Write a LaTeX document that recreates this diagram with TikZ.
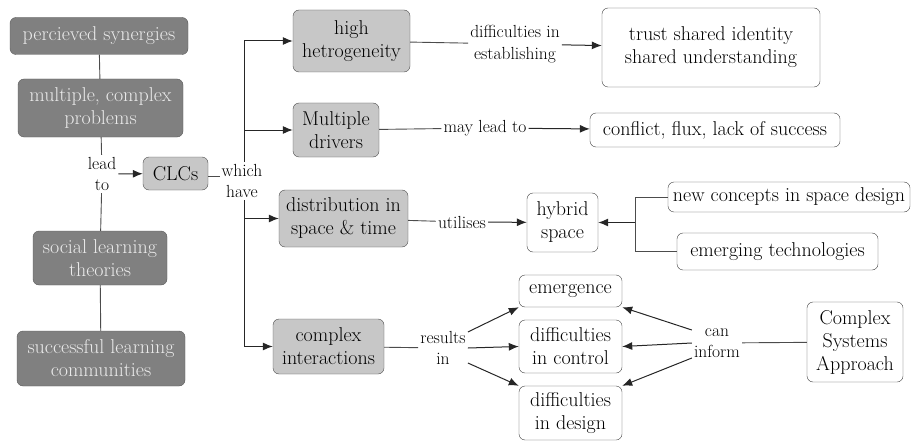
\documentclass[tikz,border=0pt]{standalone}
\usepackage{fontspec}
\usepackage{tikz}
\usetikzlibrary{arrows.meta, positioning}
\newcommand{\boxfont}{\rmfamily\fontsize{20}{23}\selectfont}
\newcommand{\lblfont}{\rmfamily\fontsize{17.5}{21.5}\selectfont}

\begin{document}
\begin{tikzpicture}[x=1pt, y=-1pt,
    darkbox/.style={draw=black!65, fill=black!50, text=white!92!black, rounded corners=6pt, align=center, font=\boxfont, inner sep=2pt},
    lightbox/.style={draw=black!70, fill=black!22, rounded corners=6pt, align=center, font=\boxfont, inner sep=2pt},
    whitebox/.style={draw=black!75, fill=white, rounded corners=6pt, align=center, font=\boxfont, inner sep=2pt},
    lbl/.style={align=center, font=\lblfont, inner sep=2pt},
    conn/.style={-{Latex[length=10pt,width=8pt]}, line width=1pt, draw=black!85},
    link/.style={line width=0.9pt, draw=black!70}]
    \useasboundingbox (0,0) rectangle (912,441);

    % Left column
    \node[darkbox, minimum width=178pt, minimum height=37pt] (synergies) at (99,36) {percieved synergies};
    \node[darkbox, minimum width=165pt, minimum height=58pt] (problems) at (100.5,108) {multiple, complex\\problems};
    \node[lbl] (leadto) at (102,174) {lead\\to};
    \node[darkbox, minimum width=134pt, minimum height=54pt] (theories) at (100,258) {social learning\\theories};
    \node[darkbox, minimum width=168pt, minimum height=55pt] (communities) at (101,358.5) {successful learning\\communities};
    \draw[link] (synergies) -- (problems);
    \draw[link] (problems) -- (leadto);
    \draw[link] (leadto) -- (theories);
    \draw[link] (theories) -- (communities);

    % CLCs and what they have
    \node[lightbox, minimum width=65pt, minimum height=33pt] (clcs) at (175.5,173.5) {CLCs};
    \node[lbl] (which) at (242,181) {which\\have};
    \draw[conn] (leadto) -- (clcs);
    \draw[link] ([yshift=-3pt]clcs.east) -- ([yshift=-3pt]clcs.east -| which.west);

    \node[lightbox, minimum width=117pt, minimum height=62pt] (hetero) at (351.5,41) {high\\hetrogeneity};
    \node[lightbox, minimum width=86pt, minimum height=54pt] (drivers) at (336,130) {Multiple\\drivers};
    \node[lightbox, minimum width=129pt, minimum height=57pt] (spacetime) at (343.5,218.5) {distribution in\\space \& time};
    \node[lightbox, minimum width=111pt, minimum height=55pt] (interactions) at (328.5,346.5) {complex\\interactions};
    \draw[conn] ([xshift=2pt]which.north) |- (hetero.west);
    \draw[conn] ([xshift=2pt]which.north) |- (drivers.west);
    \draw[conn] ([xshift=2pt]which.south) |- (spacetime.west);
    \draw[conn] ([xshift=2pt]which.south) |- (interactions.west);

    % High hetrogeneity
    \node[lbl] (establish) at (515,44) {difficulties in\\establishing};
    \node[whitebox, minimum width=218pt, minimum height=79pt] (trust) at (711,47.5) {trust shared identity\\shared understanding};
    \draw[link] (hetero) -- (establish);
    \draw[conn] (establish) -- (trust);

    % Multiple drivers
    \node[lbl] (maylead) at (485,128) {may lead to};
    \node[whitebox, minimum width=250pt, minimum height=34pt] (conflict) at (715,130) {conflict, flux, lack of success};
    \draw[link] (drivers) -- (maylead);
    \draw[conn] (maylead) -- (conflict);

    % Distribution in space & time
    \node[lbl] (utilises) at (462,222) {utilises};
    \node[whitebox, minimum width=71pt, minimum height=59pt] (hybrid) at (562.5,222.5) {hybrid\\space};
    \node[whitebox, minimum width=242pt, minimum height=30pt] (concepts) at (789,197) {new concepts in space design};
    \node[whitebox, minimum width=201pt, minimum height=37pt] (technologies) at (777.5,251.5) {emerging technologies};
    \coordinate (bracket) at (635,222.5);
    \draw[link] (spacetime) -- (utilises);
    \draw[conn] (utilises) -- (hybrid);
    \draw[link] (concepts.west) -| (bracket) |- (technologies.west);
    \draw[conn] (bracket) -- (hybrid.east);

    % Complex interactions
    \node[lbl] (results) at (443,348) {results\\in};
    \node[whitebox, minimum width=103pt, minimum height=32pt] (emergence) at (570.5,291) {emergence};
    \node[whitebox, minimum width=103pt, minimum height=53pt] (control) at (570.5,346.5) {difficulties\\in control};
    \node[whitebox, minimum width=103pt, minimum height=54pt] (design) at (570.5,413) {difficulties\\in design};
    \draw[link] (interactions) -- (results);
    \foreach \dy/\tgt in {16/emergence.south west, 0/control.west, -15/design.north west}
        \draw[conn] ([yshift=\dy pt]results.east) -- (\tgt);

    % Complex systems approach
    \node[lbl] (inform) at (717,343) {can\\inform};
    \node[whitebox, minimum width=96pt, minimum height=80pt] (systems) at (855,342) {Complex\\Systems\\Approach};
    \draw[link] (systems) -- (inform);
    \foreach \dy/\tgt in {13/emergence.south east, 0/control.east, -15/design.north east}
        \draw[conn] ([yshift=\dy pt]inform.west) -- (\tgt);
\end{tikzpicture}
\end{document}
